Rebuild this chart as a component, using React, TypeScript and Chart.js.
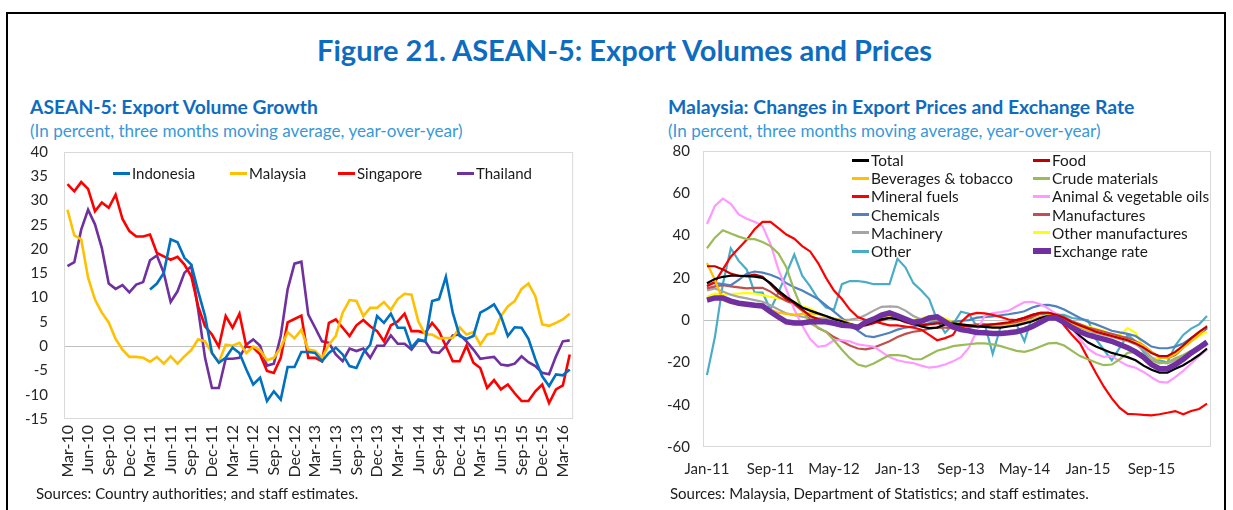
import React, { useEffect, useRef } from 'react';
import { Chart, registerables } from 'chart.js';

Chart.register(...registerables);

const FONT = 'Lato, "Open Sans", "DejaVu Sans", sans-serif';
const TITLE_BLUE = '#0E6CC0';
const SUB_BLUE = '#3A98D8';
const TICK_COLOR = '#262626';

// ---------- Left panel: ASEAN-5 export volume growth (Mar-10 .. Apr-16) ----------
const leftMonths = [
  'Mar-10', 'Apr-10', 'May-10', 'Jun-10', 'Jul-10', 'Aug-10', 'Sep-10', 'Oct-10', 'Nov-10', 'Dec-10',
  'Jan-11', 'Feb-11', 'Mar-11', 'Apr-11', 'May-11', 'Jun-11', 'Jul-11', 'Aug-11', 'Sep-11', 'Oct-11', 'Nov-11', 'Dec-11',
  'Jan-12', 'Feb-12', 'Mar-12', 'Apr-12', 'May-12', 'Jun-12', 'Jul-12', 'Aug-12', 'Sep-12', 'Oct-12', 'Nov-12', 'Dec-12',
  'Jan-13', 'Feb-13', 'Mar-13', 'Apr-13', 'May-13', 'Jun-13', 'Jul-13', 'Aug-13', 'Sep-13', 'Oct-13', 'Nov-13', 'Dec-13',
  'Jan-14', 'Feb-14', 'Mar-14', 'Apr-14', 'May-14', 'Jun-14', 'Jul-14', 'Aug-14', 'Sep-14', 'Oct-14', 'Nov-14', 'Dec-14',
  'Jan-15', 'Feb-15', 'Mar-15', 'Apr-15', 'May-15', 'Jun-15', 'Jul-15', 'Aug-15', 'Sep-15', 'Oct-15', 'Nov-15', 'Dec-15',
  'Jan-16', 'Feb-16', 'Mar-16', 'Apr-16',
];
const leftTickEvery = 3;

const indonesia = [
  null, null, null, null, null, null, null, null, null, null,
  null, null, 11.7, 12.9, 15.1, 22.0, 21.4, 18.2, 16.8, 11.3,
  6.2, -1.4, -3.4, -2.4, -0.3, -1.4, -4.8, -7.9, -6.5, -11.3,
  -9.3, -11.0, -4.3, -4.3, -1.2, -1.2, -1.4, -3.1, -1.4, -0.3,
  -1.7, -4.1, -4.5, -1.4, 0.3, 6.2, 4.8, 6.7, 3.8, 3.8,
  -0.3, 1.4, 1.0, 9.3, 9.7, 14.3, 6.9, 2.1, 1.5, 2.1,
  6.9, 7.7, 8.6, 6.2, 2.1, 3.9, 3.8, 1.5, -2.7, -6.2,
  -8.2, -5.8, -6.0, -4.8,
];
const malaysia = [
  28.1, 22.8, 22.0, 14.1, 9.6, 6.9, 4.9, 1.5, -0.7, -2.2,
  -2.2, -2.4, -3.2, -2.2, -3.6, -2.1, -3.6, -2.1, -0.8, 1.4,
  1.0, -1.4, -3.3, 0.3, 0.1, 0.7, -1.4, -0.1, -0.8, -2.9,
  -2.4, -0.3, 2.9, 1.6, 3.4, -0.7, -1.0, -2.4, 0.3, 2.1,
  6.9, 9.5, 9.3, 6.2, 7.9, 7.9, 9.1, 7.5, 9.7, 10.8,
  10.6, 5.1, 2.4, 2.4, 1.6, 1.7, 1.7, 3.9, 2.4, 2.9,
  0.3, 2.4, 2.7, 6.2, 8.2, 9.3, 11.8, 12.9, 10.3, 4.5,
  4.2, 4.8, 5.5, 6.7,
];
const singapore = [
  33.4, 31.9, 33.8, 32.4, 27.8, 29.6, 28.5, 31.2, 26.2, 23.7,
  22.6, 22.6, 23.0, 19.2, 18.5, 17.8, 18.4, 16.8, 14.4, 8.2,
  4.1, 2.4, -0.1, 6.2, 3.8, 6.7, -0.1, -0.3, -1.7, -5.1,
  -5.5, -2.4, 4.9, 5.6, 6.3, -2.4, -2.4, -3.1, 4.8, 5.5,
  3.8, 2.1, 4.3, 5.4, 4.1, 3.1, 1.0, 4.3, 5.1, 6.7,
  3.1, 3.1, 2.7, 4.8, 3.1, 0.0, -3.1, -3.1, 0.1, -3.4,
  -4.5, -8.6, -7.0, -8.9, -7.9, -9.7, -11.3, -11.3, -9.3, -7.9,
  -11.7, -8.9, -8.1, -1.7,
];
const thailand = [
  16.5, 17.3, 24.0, 28.1, 25.1, 20.2, 12.9, 11.8, 12.6, 11.1,
  12.7, 13.2, 17.7, 18.7, 15.1, 9.1, 11.3, 15.1, 16.5, 7.5,
  -2.4, -8.6, -8.6, -2.6, -2.6, -2.4, 0.3, 1.4, 0.1, -4.0,
  -3.6, 2.1, 11.7, 17.0, 17.4, 6.5, 3.8, 1.0, 0.7, -1.7,
  -3.1, -0.5, -1.0, -0.5, -2.4, 0.1, 0.1, 2.2, 0.5, 0.5,
  -0.7, 1.2, 1.0, -1.2, -1.4, 0.1, 2.2, 2.4, 1.0, -0.7,
  -2.6, -2.4, -2.2, -3.8, -4.0, -3.6, -2.1, -3.3, -4.1, -5.5,
  -5.8, -2.1, 1.0, 1.2,
];

const leftSeries = [
  { label: 'Indonesia', data: indonesia, color: '#0070C0' },
  { label: 'Malaysia', data: malaysia, color: '#FFC000' },
  { label: 'Singapore', data: singapore, color: '#FF0000' },
  { label: 'Thailand', data: thailand, color: '#7030A0' },
];

// ---------- Right panel: Malaysia export prices & exchange rate (Jan-11 .. Apr-16) ----------
const rightMonths = [
  'Jan-11', 'Feb-11', 'Mar-11', 'Apr-11', 'May-11', 'Jun-11', 'Jul-11', 'Aug-11', 'Sep-11', 'Oct-11', 'Nov-11', 'Dec-11',
  'Jan-12', 'Feb-12', 'Mar-12', 'Apr-12', 'May-12', 'Jun-12', 'Jul-12', 'Aug-12', 'Sep-12', 'Oct-12', 'Nov-12', 'Dec-12',
  'Jan-13', 'Feb-13', 'Mar-13', 'Apr-13', 'May-13', 'Jun-13', 'Jul-13', 'Aug-13', 'Sep-13', 'Oct-13', 'Nov-13', 'Dec-13',
  'Jan-14', 'Feb-14', 'Mar-14', 'Apr-14', 'May-14', 'Jun-14', 'Jul-14', 'Aug-14', 'Sep-14', 'Oct-14', 'Nov-14', 'Dec-14',
  'Jan-15', 'Feb-15', 'Mar-15', 'Apr-15', 'May-15', 'Jun-15', 'Jul-15', 'Aug-15', 'Sep-15', 'Oct-15', 'Nov-15', 'Dec-15',
  'Jan-16', 'Feb-16', 'Mar-16', 'Apr-16',
];
const rightTickEvery = 8;

const total = [
  17.5, 19.5, 20.5, 21, 21, 20.8, 20.6, 20, 17.5, 14,
  11, 8.5, 6, 4.5, 3.2, 2, 0.5, -0.5, -1.8, -2.8,
  -2, -0.5, 0.5, 1, 0.5, -0.5, -1.5, -3, -3.8, -3.5,
  -2, -1.5, -2, -2.5, -3, -3.2, -3.5, -3.5, -3, -2.5,
  -1.5, -0.5, 1, 2, 1.5, -1, -4, -7.5, -10.5, -12.5,
  -14, -15.5, -16.5, -17.5, -19, -21.5, -23.5, -24.8, -24.8, -23,
  -21.3, -19, -16.5, -13.4,
];
const food = [
  25.5, 25.5, 24, 22, 21, 20.8, 21.5, 20.5, 17, 13,
  10, 8, 5, 2, 0.5, -0.5, -1.5, -2, -2.5, -3,
  -2.5, -1.5, 0, 1, 0.5, -1, -2, -2.5, -2, -1.5,
  -1.5, -2, -2.5, -3, -3, -2.5, -2, -1.5, -1, 0,
  1, 2.5, 3.5, 3.5, 2.5, 1, -1, -2.5, -4, -5.5,
  -6.5, -7.5, -8.5, -9.5, -11, -13, -15.5, -17, -17, -15,
  -12, -8.5, -5.5, -3,
];
const beverages = [
  27, 19, 9.5, 8, 8, 7.9, 7.5, 7, 5, 3.5,
  3, 2.5, 3, 3.2, 2.8, 1.8, 0.8, 0, -1.5, -3,
  -2, -0.5, 1, 2, 1.5, -0.5, -1.5, -1, 0, 1,
  0, -1.5, -2.5, -3, -3, -3, -3, -3, -2.5, -2,
  -1, 0, 1.5, 2.5, 2, 0.5, -1.5, -3, -4.5, -5.5,
  -6.5, -7.5, -8.5, -9.5, -10.5, -12, -15, -17.5, -18, -16,
  -13, -10, -7, -2.5,
];
const crude = [
  34, 39, 42.5, 41, 39.5, 38.3, 38.3, 37, 35, 31.5,
  25, 14, 5, -1.5, -3.5, -5.5, -9.5, -14, -18, -21,
  -22, -20.5, -18.5, -16.5, -16.5, -17, -18.5, -18.5, -16.5, -14.5,
  -13.5, -12.3, -11.8, -11.4, -11, -11, -11.5, -12.3, -13.4, -14.5,
  -15, -14, -12.5, -11, -10.8, -12, -14.5, -17, -18.5, -20,
  -21.3, -21, -18.5, -15.5, -15, -16, -19, -20.5, -20, -18,
  -16.5, -14.5, -13, -11,
];
const mineral = [
  16, 18, 24, 30, 34, 38, 43, 46.5, 46.5, 43.5,
  40.5, 38.5, 35, 32.5, 27, 20, 14, 10, 5, 1.5,
  0, -0.5, -1.5, -2.5, -2.5, -3, -3.5, -4.5, -7, -9.5,
  -8.5, -7, -1, 2.5, 3.4, 3.2, 2.5, 1.5, 0.3, 0,
  1.2, 2.5, 3.5, 3.5, 2, -2.5, -7, -11, -18, -25,
  -31.5, -37, -41.5, -44.3, -44.5, -44.8, -45, -44.5, -43.8, -43,
  -44.5, -43, -42, -39.5,
];
const oils = [
  45.5, 54, 57.5, 55, 50, 48, 46.5, 44.5, 36, 24,
  14.5, 5, -2.5, -9, -12.6, -12, -9.5, -9.5, -10, -11.5,
  -12, -12.5, -15, -17.5, -19, -19.8, -20.3, -21.5, -22.5, -22,
  -21, -19.5, -17.5, -13, -5, 2, 3.3, 3.8, 4.5, 6.6,
  8.5, 8.7, 7.5, 5.5, 3, 0, -4, -9, -13.5, -16,
  -17.4, -17, -19.5, -21.5, -22.5, -24.5, -27, -29.2, -29.5, -27,
  -24, -20.5, -17, -14,
];
const chemicals = [
  17, 17.5, 17, 16.5, 19, 22, 23, 22.5, 21.5, 20,
  17.5, 15.5, 14, 12, 10, 7, 4, 1, -2, -5,
  -7.5, -8, -7, -6, -4.5, -3.5, -3, -2.2, -1.5, -0.8,
  -0.8, -0.8, -0.3, 0, 1.2, 1.5, 1.8, 2.3, 2.8, 3.4,
  4.2, 6, 7.1, 7.2, 6.5, 5, 3, 1, -0.8, -2,
  -3.5, -5, -5.8, -6.5, -7.5, -10, -12.5, -13.3, -13.3, -12.5,
  -11, -8.5, -6.5, -4,
];
const manufactures = [
  15, 16, 16.6, 16, 15.5, 15, 15.3, 15.3, 13.5, 11,
  9, 7.5, 4.5, 0, -3.8, -5.5, -8, -10, -12, -13.4,
  -13.8, -13, -11.5, -10, -8, -6.5, -5.5, -5, -4, -3.5,
  -3.5, -3.8, -3, -2.4, -2, -2, -2, -1.8, -1.5, -1,
  0, 1.5, 3, 3.5, 3, 1.5, -0.5, -2, -3.5, -4.5,
  -5.5, -6.5, -7.5, -8.5, -10, -12, -15, -17.5, -18, -16.5,
  -13, -9.5, -6.5, -3.5,
];
const machinery = [
  14, 15, 13.5, 12, 11, 10.3, 9.5, 8.7, 7, 5,
  3.2, 2.4, 1.6, 0.8, 0.8, 0.8, 0.6, 0, 0.3, 0.8,
  2.4, 4.5, 6.3, 6.5, 6.3, 4.5, 2, 0.3, -0.5, -0.3,
  -1, -2, -2.5, -3, -3, -3, -3, -2.8, -2.5, -2,
  -1, 0, 1.5, 2.5, 2, 0.5, -1.5, -3.5, -5, -6,
  -7, -8, -9, -10, -11.5, -14, -17.5, -20, -20.5, -19,
  -17, -15, -13.5, -11.8,
];
const otherManufactures = [
  11, 12.5, 12, 12.3, 12.6, 12.9, 12.6, 11.8, 11, 10.3,
  9.5, 8.7, 6.6, 5.5, 3.2, 1.6, 0.8, -0.8, -1.9, -2.8,
  -1, -0.3, 1.5, 1.6, 0.5, -0.3, 0, 1, 1.6, 1.9,
  0.8, -0.8, -1.8, -2.4, -2.6, -2.8, -2.8, -2.8, -2, -1.8,
  -1.2, 0, 1.5, 2, 1, 0, -1, -2, -3, -4,
  -5, -7, -7, -3.8, -6, -13, -18, -18, -17.5, -15,
  -12.5, -10, -7.5, -5.5,
];
const other = [
  -26, -8, 17, 34, 28, 24, 13, 13, 5, 13,
  22, 31, 21, 16, 10, 6, 5, 17, 18.5, 18.5,
  18, 17, 17, 17, 29, 25, 17.5, 14, 10, 0,
  -6, -2, 4, 3, -3, -2, -16, -3, -2, -2,
  -10, 2, 3, 3, 2.5, 2.5, 1, 0.5, 0, -9,
  -14, -19, -13, -7, -10, -15, -19, -19, -20, -12,
  -7, -4, -2, 2,
];
const exchangeRate = [
  9.5, 10.5, 10.5, 9, 8, 7.5, 7, 6.7, 4, 1.5,
  -0.8, -1.3, -1.3, -0.8, -0.6, -0.8, -1.5, -2.4, -2.6, -3.5,
  -1, 0.5, 2.4, 3.4, 2, 0.5, -1, -0.5, 1, 1.6,
  -0.8, -3.2, -4.4, -5, -5.8, -6, -6.3, -6.3, -6, -5.5,
  -4.5, -3, -1, 1, 1, -1, -3.5, -5.5, -7, -8,
  -9, -10, -11.5, -13, -15, -17.5, -21, -23, -23, -21,
  -18.5, -15.5, -13, -10.3,
];

const rightSeries = [
  { label: 'Total', data: total, color: '#000000', width: 2.2 },
  { label: 'Food', data: food, color: '#C00000', width: 2.2 },
  { label: 'Beverages & tobacco', data: beverages, color: '#FFC000', width: 2.2 },
  { label: 'Crude materials', data: crude, color: '#9BBB59', width: 2.2 },
  { label: 'Mineral fuels', data: mineral, color: '#FF0000', width: 2.2 },
  { label: 'Animal & vegetable oils', data: oils, color: '#FF99FF', width: 2.2 },
  { label: 'Chemicals', data: chemicals, color: '#4F81BD', width: 2.2 },
  { label: 'Manufactures', data: manufactures, color: '#C0504D', width: 2.2 },
  { label: 'Machinery', data: machinery, color: '#A5A5A5', width: 2.2 },
  { label: 'Other manufactures', data: otherManufactures, color: '#FFFF00', width: 2.2 },
  { label: 'Other', data: other, color: '#4BACC6', width: 2.2 },
  { label: 'Exchange rate', data: exchangeRate, color: '#7030A0', width: 5.5 },
];

const plotFrame = {
  id: 'plotFrame',
  beforeDatasetsDraw(chart: any) {
    const { ctx, chartArea: a } = chart;
    ctx.save();
    ctx.strokeStyle = '#D9D9D9';
    ctx.lineWidth = 1;
    ctx.strokeRect(a.left + 0.5, a.top + 0.5, a.width - 1, a.height - 1);
    ctx.restore();
  },
};

function LineChart(props: {
  left: number; top: number; width: number; height: number;
  build: () => any;
}) {
  const ref = useRef<HTMLCanvasElement | null>(null);
  useEffect(() => {
    if (!ref.current) return;
    const chart = new Chart(ref.current, props.build());
    return () => chart.destroy();
  }, []);
  return (
    <div style={{ position: 'absolute', left: props.left, top: props.top, width: props.width, height: props.height }}>
      <canvas ref={ref} width={props.width} height={props.height} style={{ width: props.width, height: props.height, display: 'block' }} />
    </div>
  );
}

function zeroGrid(ctx: any) {
  return ctx.tick && ctx.tick.value === 0 ? '#BFBFBF' : 'rgba(0,0,0,0)';
}

// Layout padding at the top is larger than the y-label overflow, so the plot top is exact.
const PAD_TOP = 32;

function buildLeft() {
  return {
    type: 'line',
    data: {
      labels: leftMonths,
      datasets: leftSeries.map((s) => ({
        label: s.label,
        data: s.data,
        borderColor: s.color,
        backgroundColor: s.color,
        borderWidth: 2.6,
        pointRadius: 0,
        tension: 0,
        spanGaps: false,
      })),
    },
    options: {
      animation: false,
      responsive: false,
      maintainAspectRatio: false,
      devicePixelRatio: 1,
      layout: { padding: { top: PAD_TOP, right: 10, left: 0, bottom: 0 } },
      plugins: { legend: { display: false }, tooltip: { enabled: false } },
      scales: {
        x: {
          type: 'category',
          offset: true,
          grid: { display: false, drawTicks: false },
          border: { display: false },
          afterFit: (s: any) => { s.height = 66; },
          ticks: {
            autoSkip: false,
            maxRotation: 90,
            minRotation: 90,
            padding: 6,
            color: TICK_COLOR,
            font: { family: FONT, size: 16 },
            callback: (_v: any, i: number) => (i % leftTickEvery === 0 ? leftMonths[i] : ''),
          },
        },
        y: {
          min: -15,
          max: 40,
          afterFit: (s: any) => { s.width = 44; },
          grid: { color: zeroGrid, drawTicks: false, lineWidth: 1 },
          border: { display: false },
          ticks: { stepSize: 5, padding: 16, color: TICK_COLOR, font: { family: FONT, size: 15 } },
        },
      },
    },
    plugins: [plotFrame],
  };
}

function buildRight() {
  return {
    type: 'line',
    data: {
      labels: rightMonths,
      datasets: rightSeries.map((s, i) => ({
        label: s.label,
        data: s.data,
        borderColor: s.color,
        backgroundColor: s.color,
        borderWidth: s.width,
        pointRadius: 0,
        tension: 0,
        order: s.label === 'Exchange rate' ? 0 : i + 1,
      })),
    },
    options: {
      animation: false,
      responsive: false,
      maintainAspectRatio: false,
      devicePixelRatio: 1,
      layout: { padding: { top: PAD_TOP, right: 10, left: 0, bottom: 0 } },
      plugins: { legend: { display: false }, tooltip: { enabled: false } },
      scales: {
        x: {
          type: 'category',
          offset: true,
          grid: { display: false, drawTicks: false },
          border: { display: false },
          afterFit: (s: any) => { s.height = 37; },
          ticks: {
            autoSkip: false,
            maxRotation: 0,
            minRotation: 0,
            padding: 13,
            color: TICK_COLOR,
            font: { family: FONT, size: 15 },
            callback: (_v: any, i: number) => (i % rightTickEvery === 0 ? rightMonths[i] : ''),
          },
        },
        y: {
          min: -60,
          max: 80,
          afterFit: (s: any) => { s.width = 48; },
          grid: { color: zeroGrid, drawTicks: false, lineWidth: 1 },
          border: { display: false },
          ticks: { stepSize: 20, padding: 13, color: TICK_COLOR, font: { family: FONT, size: 15 } },
        },
      },
    },
    plugins: [plotFrame],
  };
}

const txt = (extra: any): any => ({ position: 'absolute', whiteSpace: 'nowrap', fontFamily: FONT, lineHeight: '20px', ...extra });

function LegendItem(props: { x: number; y: number; label: string; color: string; thick?: number; lineW?: number; size?: number }) {
  const t = props.thick || 3;
  const lw = props.lineW || 17;
  return (
    <div style={txt({ left: props.x, top: props.y - 10, height: 20, display: 'flex', alignItems: 'center', fontSize: props.size || 15, color: '#1a1a1a' })}>
      <span style={{ display: 'inline-block', width: lw, height: t, background: props.color, marginRight: 2 }} />
      <span>{props.label}</span>
    </div>
  );
}

const leftLegendPos = [
  { x: 113, y: 173 },
  { x: 230, y: 173 },
  { x: 338, y: 173 },
  { x: 457, y: 173 },
];

const rightLegendPos = rightSeries.map((_s, i) => ({
  x: i % 2 === 0 ? 852 : 1033,
  y: 160 + Math.floor(i / 2) * 18.2,
}));

export default function App() {
  return (
    <div style={{ position: 'absolute', left: 0, top: 0, width: 1233, height: 510, overflow: 'hidden', background: '#fff' }}>
      <div style={{ position: 'absolute', left: 6, top: 12, width: 1216, height: 520, border: '2px solid #000' }} />
      <div style={txt({ left: 8, width: 1233, top: 34, lineHeight: '32px', textAlign: 'center', fontSize: 29, fontWeight: 700, color: TITLE_BLUE })}>
        Figure 21. ASEAN-5: Export Volumes and Prices
      </div>

      <div style={txt({ left: 30, top: 96, lineHeight: '22px', fontSize: 19.3, fontWeight: 700, color: TITLE_BLUE })}>ASEAN-5: Export Volume Growth</div>
      <div style={txt({ left: 30, top: 120, lineHeight: '22px', fontSize: 17.1, color: SUB_BLUE })}>(In percent, three months moving average, year-over-year)</div>

      <div style={txt({ left: 668, top: 96, lineHeight: '22px', fontSize: 19.4, fontWeight: 700, color: TITLE_BLUE })}>Malaysia: Changes in Export Prices and Exchange Rate</div>
      <div style={txt({ left: 668, top: 120, lineHeight: '22px', fontSize: 17.1, color: SUB_BLUE })}>(In percent, three months moving average, year-over-year)</div>

      <LineChart left={20} top={152 - PAD_TOP} width={575} height={PAD_TOP + 267 + 66} build={buildLeft} />
      <LineChart left={655} top={151 - PAD_TOP} width={566} height={PAD_TOP + 296 + 37} build={buildRight} />

      {leftSeries.map((s, i) => (
        <LegendItem key={s.label} x={leftLegendPos[i].x} y={leftLegendPos[i].y} label={s.label} color={s.color} />
      ))}
      {rightSeries.map((s, i) => (
        <LegendItem key={s.label} x={rightLegendPos[i].x} y={rightLegendPos[i].y} label={s.label} color={s.color} size={15.4}
          thick={s.label === 'Exchange rate' ? 6 : 3} lineW={s.label === 'Exchange rate' ? 18 : 17} />
      ))}

      <div style={txt({ left: 36, top: 483, fontSize: 15, color: '#1a1a1a' })}>Sources: Country authorities; and staff estimates.</div>
      <div style={txt({ left: 670, top: 483, fontSize: 15, color: '#1a1a1a' })}>Sources: Malaysia, Department of Statistics; and staff estimates.</div>
    </div>
  );
}
